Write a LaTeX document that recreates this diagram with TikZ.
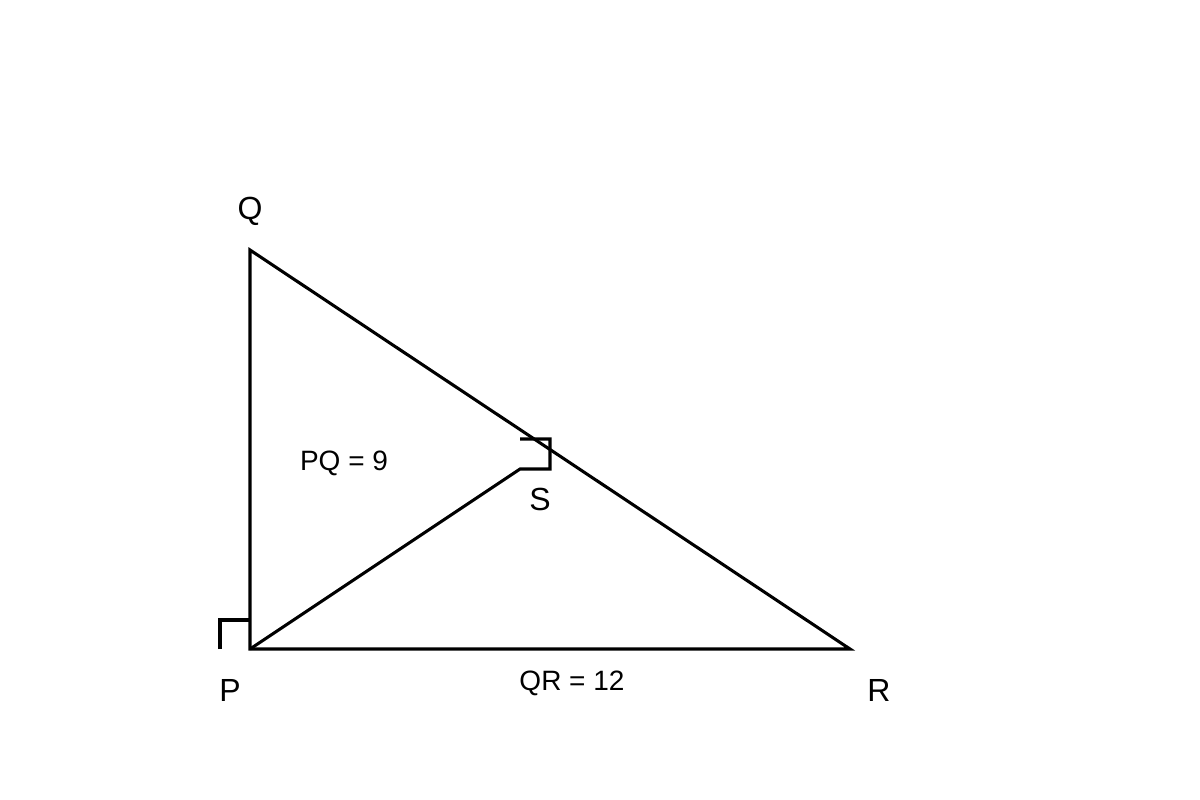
\documentclass[tikz,border=0pt]{standalone}
\usepackage{fontspec}
\setmainfont{Liberation Sans}
\begin{document}
\begin{tikzpicture}[x=0.75pt,y=-0.75pt,line width=2.3pt,
  vname/.style={font=\fontsize{24}{28}\selectfont},
  sidelen/.style={font=\fontsize{21}{25}\selectfont}]
\useasboundingbox (0,0) rectangle (1200,800);
\coordinate (P) at (250,649);
\coordinate (Q) at (250,250);
\coordinate (R) at (850,649);
\coordinate (S) at (520,469); % end of the line from P
\draw (P) -- (Q) -- (R) -- cycle;
\draw (P) -- (S) -- ++(30,0) -- ++(0,-30) -- ++(-30,0); % edit here for the mark at S
\draw (P) ++(-30,0) -- ++(0,-29) -- ++(30,0); % mark at P
\node[vname] (lQ) at (250,211) {Q};
\node[vname] (lP) at (230,690) {P};
\node[vname] (lR) at (879,690) {R};
\node[vname] (lS) at (540,499) {S};
\node[sidelen] (lPQ) at (344,463) {PQ = 9};
\node[sidelen] (lQR) at (572,683) {QR = 12};
\end{tikzpicture}
\end{document}
